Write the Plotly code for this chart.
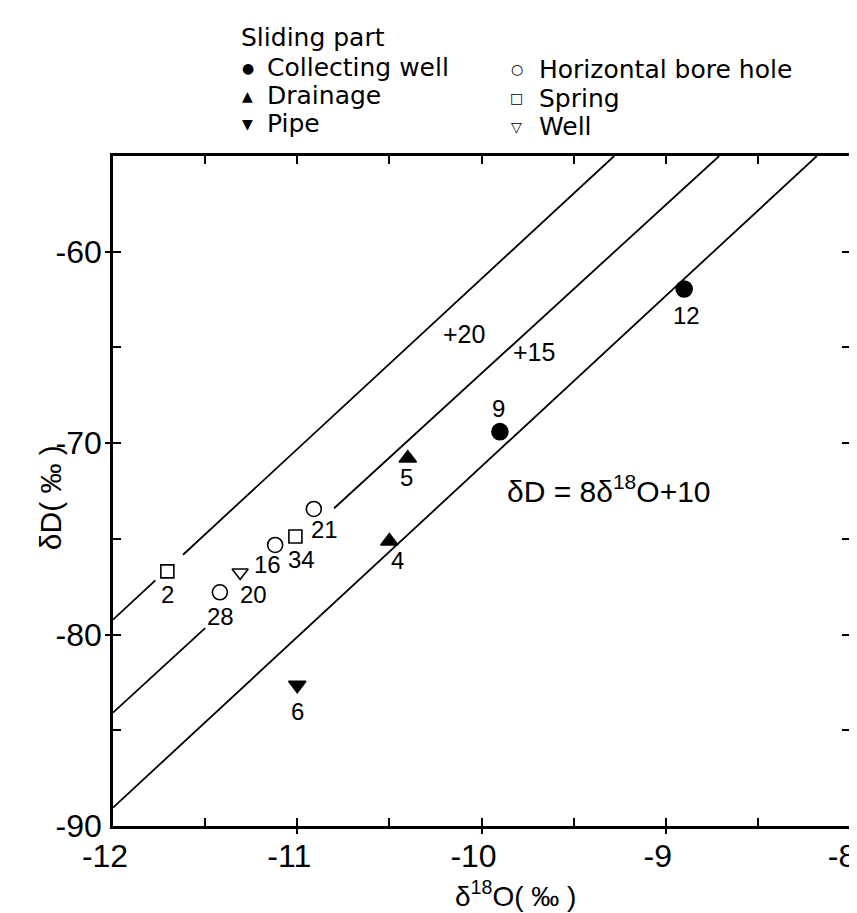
import plotly.graph_objects as go

# ---------------- data ----------------
# Collecting well (filled circle)
cw_x = [-9.90, -8.90]
cw_y = [-69.4, -61.95]
cw_id = ["9", "12"]
# Drainage (filled triangle up)
dr_x = [-10.40, -10.50]
dr_y = [-70.79, -75.12]
dr_id = ["5", "4"]
# Pipe (filled triangle down)
pp_x = [-11.00]
pp_y = [-82.64]
pp_id = ["6"]
# Horizontal bore hole (open circle)
hb_x = [-10.91, -11.12, -11.42]
hb_y = [-73.44, -75.32, -77.79]
hb_id = ["21", "16", "28"]
# Spring (open square)
sp_x = [-11.01, -11.705]
sp_y = [-74.88, -76.7]
sp_id = ["34", "2"]
# Well (open triangle down)
wl_x = [-11.31]
wl_y = [-76.76]
wl_id = ["20"]

# reference lines as drawn (endpoints, None = gap)
l10_x = [-12.0, -8.18]
l10_y = [-89.04, -55.0]
l15_x = [-12.0, -11.50, None, -10.80, -8.71]
l15_y = [-84.08, -79.66, None, -73.4, -55.0]
l20_x = [-12.0, -11.77, None, -11.62, -9.28]
l20_y = [-79.22, -77.17, None, -75.83, -55.0]

x_major = [-12, -11, -10, -9, -8]
x_major_text = ["-12", "-11", "-10", "-9", "-8"]
x_half = [-11.5, -10.5, -9.5, -8.5]
y_major = [-90, -80, -70, -60]
y_major_text = ["-90", "-80", "-70", "-60"]
y_half = [-85, -75, -65]

legend_title = "Sliding part"
legend_left = [("●", "Collecting well"), ("▲", "Drainage"), ("▼", "Pipe")]
legend_right = [("○", "Horizontal bore hole"), ("□", "Spring"), ("▽", "Well")]

# ---------------- layout helpers ----------------
W, H = 857, 913
L, R, T, B = 105, 9, 148, 95
PW = W - L - R
PH = H - T - B
FONT = "Liberation Sans, Arial, sans-serif"
LFONT = "DejaVu Sans, Liberation Sans, sans-serif"


def paper(px, py):
    return (px - L) / PW, (H - B - py) / PH


fig = go.Figure()

for lx, ly in [(l10_x, l10_y), (l15_x, l15_y), (l20_x, l20_y)]:
    fig.add_trace(go.Scatter(x=lx, y=ly, mode="lines", connectgaps=False,
                             line=dict(color="black", width=1.8),
                             hoverinfo="skip", showlegend=False))

series = [
    (cw_x, cw_y, "circle", 16),
    (dr_x, dr_y, "triangle-up", 15),
    (pp_x, pp_y, "triangle-down", 15),
    (hb_x, hb_y, "circle-open", 15),
    (sp_x, sp_y, "square-open", 13),
    (wl_x, wl_y, "triangle-down-open", 14),
]
for sx, sy, sym, size in series:
    fig.add_trace(go.Scatter(x=sx, y=sy, mode="markers",
                             marker=dict(symbol=sym, size=size, color="black",
                                         line=dict(color="black", width=1.6)),
                             showlegend=False))

# empty traces so the overlay axes (extra tick marks) are drawn
for xa, ya in [("x2", "y2"), ("x3", "y3")]:
    fig.add_trace(go.Scatter(x=[None], y=[None], xaxis=xa, yaxis=ya,
                             mode="markers", showlegend=False, hoverinfo="skip"))

# point labels: pixel offsets (dx right, dy down)
label_offsets = {
    "9": (-1, -23), "12": (2, 26), "5": (-1, 19), "4": (8, 19), "6": (0, 26),
    "21": (11, 21), "16": (-8, 20), "28": (1, 24), "34": (6, 23), "2": (0, 23),
    "20": (13, 22),
}
annotations = []
for sx, sy, ids in [(cw_x, cw_y, cw_id), (dr_x, dr_y, dr_id), (pp_x, pp_y, pp_id),
                    (hb_x, hb_y, hb_id), (sp_x, sp_y, sp_id), (wl_x, wl_y, wl_id)]:
    for xv, yv, t in zip(sx, sy, ids):
        dx, dy = label_offsets[t]
        annotations.append(dict(x=xv, y=yv, xref="x", yref="y", text=t,
                                showarrow=False, xshift=dx, yshift=-dy,
                                borderpad=0,
                                font=dict(size=24, color="black", family=FONT)))

# line labels
for txt, (px, py), fs in [("+20", (459, 326), 25), ("+15", (529, 344), 25),
                          ("δD = 8δ<sup>18</sup>O+10", (605, 481), 30)]:
    xp, yp = paper(px, py)
    annotations.append(dict(x=xp, y=yp, xref="paper", yref="paper", text=txt,
                            showarrow=False, xanchor="center", yanchor="middle",
                            borderpad=0,
                            font=dict(size=fs, color="black", family=FONT)))

# legend (drawn as text above the frame)
xp, yp = paper(233, 29)
annotations.append(dict(x=xp, y=yp, xref="paper", yref="paper", text=legend_title,
                        showarrow=False, xanchor="left", yanchor="middle",
                        borderpad=0,
                        font=dict(size=25, color="black", family=LFONT)))
for col_items, sym_x, txt_x, rows_y in [(legend_left, 241, 259, [60, 88, 116]),
                                        (legend_right, 512, 533, [61, 90, 119])]:
    for (sym, txt), ry in zip(col_items, rows_y):
        xs, ys = paper(sym_x, ry)
        annotations.append(dict(x=xs, y=ys, xref="paper", yref="paper", text=sym,
                                showarrow=False, xanchor="center", yanchor="middle",
                                borderpad=0,
                                font=dict(size=14, color="black", family="DejaVu Sans")))
        xt, yt = paper(txt_x, ry)
        annotations.append(dict(x=xt, y=yt, xref="paper", yref="paper", text=txt,
                                showarrow=False, xanchor="left", yanchor="middle",
                                borderpad=0,
                                font=dict(size=25, color="black", family=LFONT)))

# axis titles
xp, yp = paper(511, 886)
annotations.append(dict(x=xp, y=yp, xref="paper", yref="paper",
                        text="δ<sup>18</sup>O( ‰ )", showarrow=False,
                        xanchor="center", yanchor="middle", borderpad=0,
                        font=dict(size=28, color="black", family=FONT)))
xp, yp = paper(24, 490)
annotations.append(dict(x=xp, y=yp, xref="paper", yref="paper",
                        text="δD( ‰ )", showarrow=False, textangle=-90,
                        borderpad=0,
                        font=dict(size=30, color="black", family=FONT)))

axis_common = dict(showgrid=False, zeroline=False, color="black", tickcolor="black",
                   tickwidth=2)
fig.update_layout(
    width=W, height=H,
    margin=dict(l=L, r=R, t=T, b=B, pad=0),
    paper_bgcolor="white", plot_bgcolor="white",
    font=dict(family=FONT, color="black"),
    showlegend=False,
    annotations=annotations,
    # main axes: frame, labelled ticks (inside, on all four sides)
    xaxis=dict(range=[-12, -8], showline=True, linewidth=2.5, linecolor="black",
               mirror="ticks", ticks="inside", ticklen=8,
               tickvals=x_major, ticktext=x_major_text,
               tickfont=dict(size=32, family=FONT), ticklabelstandoff=0,
               ticklabelshift=-8, ticklabeloverflow="allow", **axis_common),
    yaxis=dict(range=[-90, -55], showline=True, linewidth=2.5, linecolor="black",
               mirror="ticks", ticks="inside", ticklen=8,
               tickvals=y_major, ticktext=y_major_text,
               tickfont=dict(size=32, family=FONT), ticklabelstandoff=2,
               ticklabeloverflow="allow", **axis_common),
    # half-step ticks (inside, mirrored), no labels
    xaxis2=dict(range=[-12, -8], overlaying="x", anchor="y2", side="bottom",
                showline=False, mirror="ticks", ticks="inside", ticklen=8,
                tickvals=x_half, showticklabels=False, **axis_common),
    yaxis2=dict(range=[-90, -55], overlaying="y", anchor="x2", side="left",
                showline=False, mirror="ticks", ticks="inside", ticklen=8,
                tickvals=y_half, showticklabels=False, **axis_common),
    # outer part of the labelled ticks (bottom and left only)
    xaxis3=dict(range=[-12, -8], overlaying="x", anchor="y3", side="bottom",
                showline=False, ticks="outside", ticklen=7,
                tickvals=x_major[1:-1], showticklabels=False, **axis_common),
    yaxis3=dict(range=[-90, -55], overlaying="y", anchor="x3", side="left",
                showline=False, ticks="outside", ticklen=7,
                tickvals=y_major[1:], showticklabels=False, **axis_common),
)

fig.write_html("out.html")
